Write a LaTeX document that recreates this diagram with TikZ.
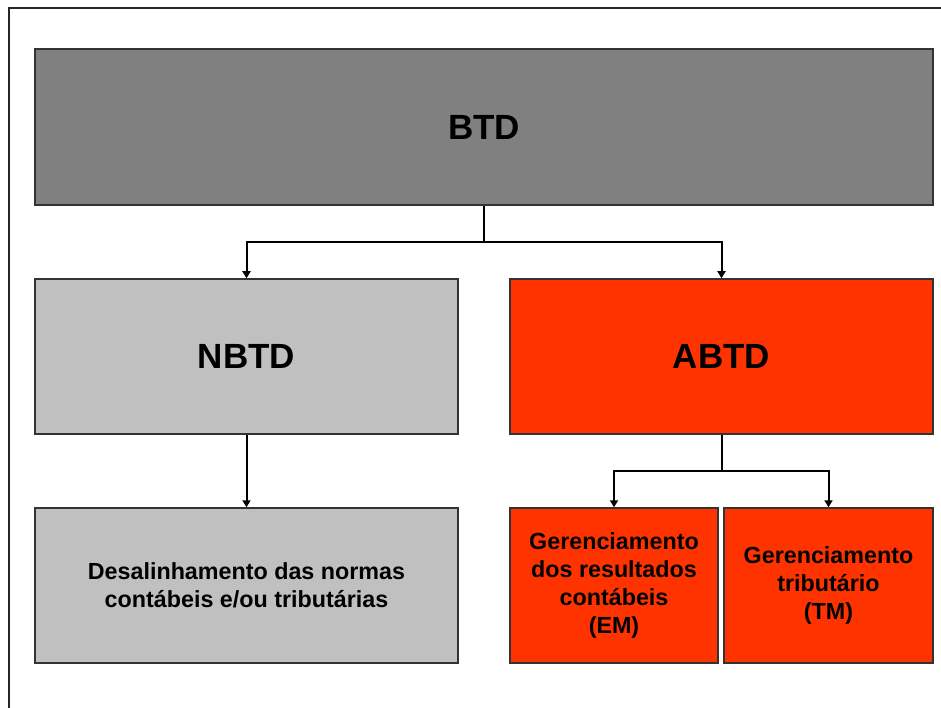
\documentclass[tikz,border=0pt]{standalone}
\usepackage{fontspec}
\setmainfont{Liberation Sans}
\usetikzlibrary{arrows.meta}
\definecolor{btdgray}{HTML}{808080}
\definecolor{nbtdgray}{HTML}{C0C0C0}
\definecolor{abtdred}{HTML}{FF3300}
\tikzset{
  box/.style={draw=black!80, line width=1.5pt, inner sep=0pt, align=center, font=\bfseries},
  bigtxt/.style={font=\fontsize{35}{42}\selectfont\bfseries},
  smalltxt/.style={font=\fontsize{23.3}{27.7}\selectfont\bfseries},
  conn/.style={draw=black, line width=2pt},
  arr/.style={conn, -{Triangle[length=7pt,width=8pt]}}
}
\begin{document}
\begin{tikzpicture}[x=1pt,y=-1pt]
\useasboundingbox (0,0) rectangle (941,708);
\draw[line width=1.5pt, draw=black!85] (941,8) -- (9,8) -- (9,708);
\node[box, bigtxt, fill=btdgray, minimum width=898pt, minimum height=156pt] (btd) at (484,127) {BTD};
\node[box, bigtxt, fill=nbtdgray, minimum width=423pt, minimum height=155pt] (nbtd) at (246.5,356.5) {NBTD};
\node[box, bigtxt, fill=abtdred, minimum width=423pt, minimum height=155pt] (abtd) at (721.5,356.5) {ABTD};
\node[box, smalltxt, fill=nbtdgray, minimum width=423pt, minimum height=155pt] (des) at (246.5,585.5) {Desalinhamento das normas\\cont\'abeis e/ou tribut\'arias};
\node[box, smalltxt, fill=abtdred, minimum width=208pt, minimum height=155pt] (em) at (614,585.5) {Gerenciamento\\dos resultados\\cont\'abeis\\(EM)};
\node[box, smalltxt, fill=abtdred, minimum width=209pt, minimum height=155pt] (tm) at (828.5,585.5) {Gerenciamento\\tribut\'ario\\(TM)};
\coordinate (j1) at (484,242);
\coordinate (j2) at (721.5,471);
\draw[conn] (btd.south) -- (j1);
\draw[arr] (j1) -| (nbtd.north);
\draw[arr] (j1) -| (abtd.north);
\draw[arr] (nbtd.south) -- (des.north);
\draw[conn] (abtd.south) -- (j2);
\draw[arr] (j2) -| (em.north);
\draw[arr] (j2) -| (tm.north);
\end{tikzpicture}
\end{document}
